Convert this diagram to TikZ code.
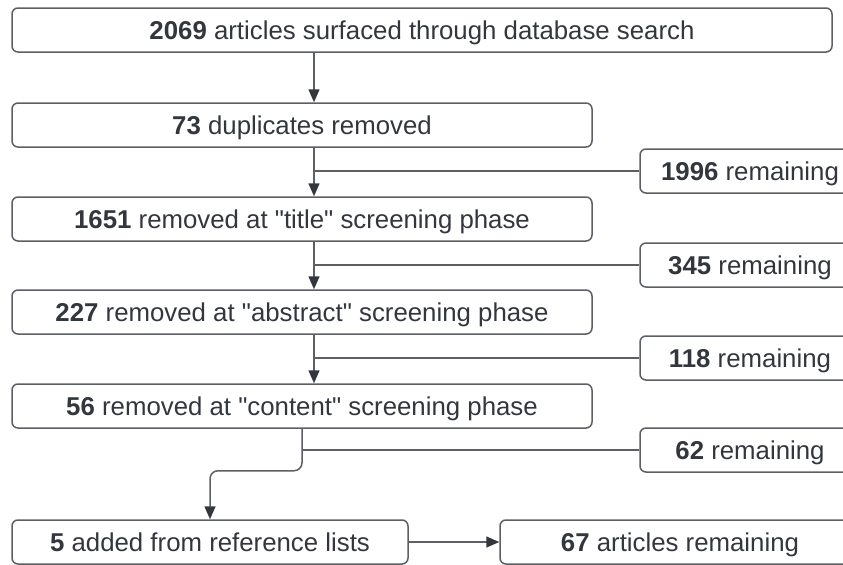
\documentclass[tikz,border=0pt]{standalone}
\usepackage{fontspec}
\setmainfont{Liberation Sans}
\usetikzlibrary{arrows.meta}
\definecolor{txt}{HTML}{33373D}
\definecolor{edge}{HTML}{5C5F63}
\begin{document}
\begin{tikzpicture}[x=0.5pt,y=-0.5pt,
    stagebox/.style={draw=edge,line width=0.75pt,rounded corners=3pt,
      minimum height=22pt,inner sep=0pt,text=txt,
      text height=9.2pt,text depth=0pt,
      font=\fontsize{12.9}{15}\selectfont},
    flow/.style={draw=edge,line width=0.75pt},
    flowarrow/.style={flow,-{Triangle[length=6.5pt,width=5.5pt,color=txt]}}]
      \useasboundingbox (0,0) rectangle (843,564);
      \clip (0,0) rectangle (843,564);
      \def \Boxes{
        search/422/30/820/{\textbf{2069} articles surfaced through database search},
        dupl/302/125/580/{\textbf{73} duplicates removed},
        title/302/219/580/{\textbf{1651} removed at \textquotedbl title\textquotedbl\ screening phase},
        abstr/302/312/580/{\textbf{227} removed at \textquotedbl abstract\textquotedbl\ screening phase},
        content/302/406/580/{\textbf{56} removed at \textquotedbl content\textquotedbl\ screening phase},
        rem1/750/171/220/{\textbf{1996} remaining},
        rem2/750/265/220/{\textbf{345} remaining},
        rem3/750/358/220/{\textbf{118} remaining},
        rem4/750/450/220/{\textbf{62} remaining},
        added/210/542/396/{\textbf{5} added from reference lists},
        final/680/542/360/{\textbf{67} articles remaining}}
      \def \Steps{
        dupl/title/rem1,
        title/abstr/rem2,
        abstr/content/rem3}
      \foreach \id / \x / \y / \w / \t in \Boxes{
        \node[stagebox,minimum width=\w*0.5pt] (\id) at (\x, \y) {\t};
      }
      \draw[flowarrow] ([xshift=-54pt]search.south) -- ([xshift=6pt]dupl.north);
      \foreach \a / \b / \r in \Steps{
        \coordinate (\a-out) at ([xshift=6pt]\a.south);
        \draw[flowarrow] (\a-out) -- (\a-out |- \b.north);
        \path[flow] (\r.west) -- (\r.west -| \a-out);
      }
      \draw[flowarrow,rounded corners=4pt] (content.south) -- ++(0,42) -| (added.north);
      \path[flow] (rem4.west) -- (rem4.west -| content.south);
      \draw[flowarrow] (added) -- (final);
    \end{tikzpicture}
\end{document}
